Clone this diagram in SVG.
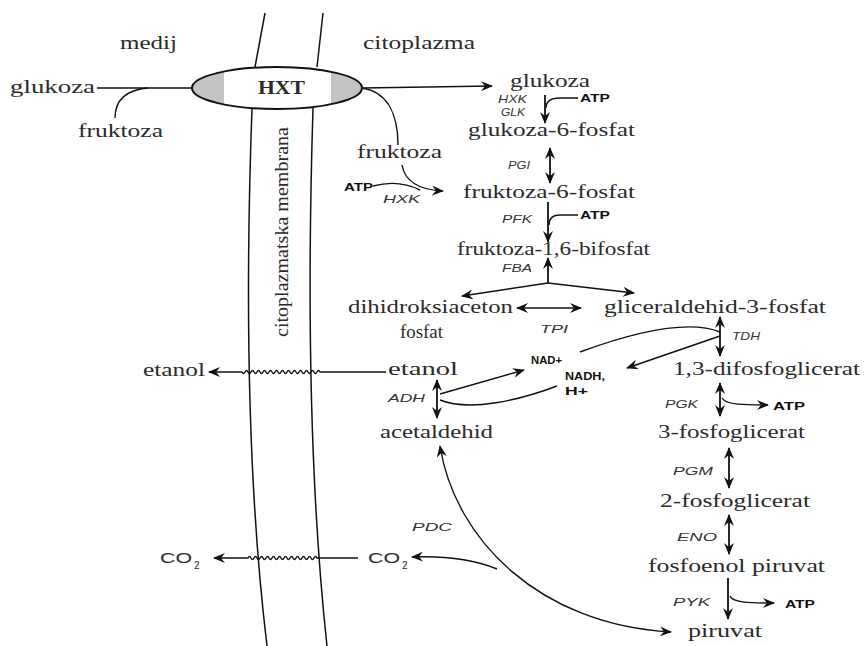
<svg xmlns="http://www.w3.org/2000/svg" width="867" height="646" viewBox="0 0 867 646">
<style>
.t{font-family:"Liberation Serif","Times New Roman",serif;font-size:19px;fill:#2b2b2b}
.s{font-family:"Liberation Sans",Arial,sans-serif;font-size:10.5px;font-weight:bold;fill:#111}
.e{font-family:"Liberation Sans",Arial,sans-serif;font-size:11px;font-style:italic;fill:#333}
.co{font-family:"Liberation Sans",Arial,sans-serif;font-size:15px;fill:#2b2b2b}
.sub{font-family:"Liberation Sans",Arial,sans-serif;font-size:10px;fill:#2b2b2b}
.c{fill:none;stroke:#111;stroke-width:1.4}
.v{fill:none;stroke:#111;stroke-width:1.8}
.m{fill:none;stroke:#111;stroke-width:1.5}
</style>
<defs>
<marker id="ah" viewBox="0 0 12 10" refX="11" refY="5" markerWidth="12" markerHeight="10" markerUnits="userSpaceOnUse" orient="auto-start-reverse">
<path d="M0,0 L12,5 L0,10 L4,5 z" fill="#111"/>
</marker>
<clipPath id="ec"><ellipse cx="277" cy="88" rx="85" ry="21"/></clipPath>
</defs>

<g id="membrane">
<path class="m" d="M265,13 L255,67"/>
<path class="m" d="M323,13 L317,67"/>
<path class="m" d="M252,108 C245,300 247,480 267,646"/>
<path class="m" d="M313,108 C307,300 309,480 327,646"/>
<text class="t" transform="translate(288,232) rotate(-90)" text-anchor="middle" font-size="20" textLength="210" lengthAdjust="spacingAndGlyphs">citoplazmatska membrana</text>
</g>

<g id="hxt">
<g clip-path="url(#ec)">
<rect x="190" y="65" width="175" height="46" fill="#c4c4c4"/>
<rect x="224" y="65" width="107" height="46" fill="#fff"/>
</g>
<ellipse cx="277" cy="88" rx="85" ry="21" fill="none" stroke="#111" stroke-width="2"/>
<text class="t" x="258" y="94" font-size="16" font-weight="bold" textLength="47" lengthAdjust="spacingAndGlyphs">HXT</text>
</g>

<g id="labels">
<text class="t" x="120" y="49" textLength="57" lengthAdjust="spacingAndGlyphs">medij</text>
<text class="t" x="363" y="49" textLength="112" lengthAdjust="spacingAndGlyphs">citoplazma</text>
</g>

<g id="n-glukoza-out"><text class="t" x="10" y="93" textLength="85" lengthAdjust="spacingAndGlyphs">glukoza</text></g>
<g id="n-fruktoza-out"><text class="t" x="78" y="137" textLength="85" lengthAdjust="spacingAndGlyphs">fruktoza</text></g>
<g id="n-fruktoza-in"><text class="t" x="357" y="158" textLength="85" lengthAdjust="spacingAndGlyphs">fruktoza</text></g>
<g id="n-glukoza-in"><text class="t" x="510" y="87" textLength="80" lengthAdjust="spacingAndGlyphs">glukoza</text></g>
<g id="n-g6p"><text class="t" x="468" y="136" textLength="167" lengthAdjust="spacingAndGlyphs">glukoza-6-fosfat</text></g>
<g id="n-f6p"><text class="t" x="463" y="198" textLength="172" lengthAdjust="spacingAndGlyphs">fruktoza-6-fosfat</text></g>
<g id="n-f16bp"><text class="t" x="457" y="255" textLength="193" lengthAdjust="spacingAndGlyphs">fruktoza-1,6-bifosfat</text></g>
<g id="n-dhap">
<text class="t" x="348" y="313" textLength="165" lengthAdjust="spacingAndGlyphs">dihidroksiaceton</text>
<text class="t" x="400" y="338" textLength="43" lengthAdjust="spacingAndGlyphs">fosfat</text>
</g>
<g id="n-g3p"><text class="t" x="604" y="313" textLength="222" lengthAdjust="spacingAndGlyphs">gliceraldehid-3-fosfat</text></g>
<g id="n-etanol-in"><text class="t" x="388" y="375" textLength="70" lengthAdjust="spacingAndGlyphs">etanol</text></g>
<g id="n-etanol-out"><text class="t" x="143" y="376" textLength="62" lengthAdjust="spacingAndGlyphs">etanol</text></g>
<g id="n-13bpg"><text class="t" x="673" y="375" textLength="187" lengthAdjust="spacingAndGlyphs">1,3-difosfoglicerat</text></g>
<g id="n-acetaldehid"><text class="t" x="380" y="438" textLength="113" lengthAdjust="spacingAndGlyphs">acetaldehid</text></g>
<g id="n-3pg"><text class="t" x="658" y="438" textLength="147" lengthAdjust="spacingAndGlyphs">3-fosfoglicerat</text></g>
<g id="n-2pg"><text class="t" x="660" y="507" textLength="150" lengthAdjust="spacingAndGlyphs">2-fosfoglicerat</text></g>
<g id="n-pep"><text class="t" x="648" y="572" textLength="177" lengthAdjust="spacingAndGlyphs">fosfoenol piruvat</text></g>
<g id="n-piruvat"><text class="t" x="688" y="637" textLength="74" lengthAdjust="spacingAndGlyphs">piruvat</text></g>
<g id="n-co2-in"><text class="co" x="368" y="563" textLength="32" lengthAdjust="spacingAndGlyphs">CO</text><text class="sub" x="402" y="569">2</text></g>
<g id="n-co2-out"><text class="co" x="160" y="563" textLength="32" lengthAdjust="spacingAndGlyphs">CO</text><text class="sub" x="194" y="569">2</text></g>
<g id="n-nad">
<text class="s" x="531" y="364" textLength="31" lengthAdjust="spacingAndGlyphs">NAD+</text>
<text class="s" x="565" y="380" textLength="40" lengthAdjust="spacingAndGlyphs">NADH,</text>
<text class="s" x="565" y="395" textLength="23" lengthAdjust="spacingAndGlyphs">H+</text>
</g>

<g id="enzymes">
<text class="e" x="498" y="103" textLength="29" lengthAdjust="spacingAndGlyphs">HXK</text>
<text class="e" x="501" y="116" textLength="24" lengthAdjust="spacingAndGlyphs">GLK</text>
<text class="e" x="508" y="169" textLength="22" lengthAdjust="spacingAndGlyphs">PGI</text>
<text class="e" x="502" y="223" textLength="30" lengthAdjust="spacingAndGlyphs">PFK</text>
<text class="e" x="502" y="272" textLength="30" lengthAdjust="spacingAndGlyphs">FBA</text>
<text class="e" x="540" y="333" textLength="28" lengthAdjust="spacingAndGlyphs">TPI</text>
<text class="e" x="732" y="340" textLength="28" lengthAdjust="spacingAndGlyphs">TDH</text>
<text class="e" x="388" y="402" textLength="37" lengthAdjust="spacingAndGlyphs">ADH</text>
<text class="e" x="665" y="408" textLength="33" lengthAdjust="spacingAndGlyphs">PGK</text>
<text class="e" x="673" y="475" textLength="40" lengthAdjust="spacingAndGlyphs">PGM</text>
<text class="e" x="677" y="541" textLength="40" lengthAdjust="spacingAndGlyphs">ENO</text>
<text class="e" x="673" y="606" textLength="37" lengthAdjust="spacingAndGlyphs">PYK</text>
<text class="e" x="412" y="531" textLength="40" lengthAdjust="spacingAndGlyphs">PDC</text>
<text class="e" x="383" y="203" textLength="37" lengthAdjust="spacingAndGlyphs">HXK</text>
</g>

<g id="atp">
<text class="s" x="344" y="191" textLength="29" lengthAdjust="spacingAndGlyphs">ATP</text>
<text class="s" x="580" y="102" textLength="30" lengthAdjust="spacingAndGlyphs">ATP</text>
<text class="s" x="580" y="219" textLength="30" lengthAdjust="spacingAndGlyphs">ATP</text>
<text class="s" x="773" y="410" textLength="32" lengthAdjust="spacingAndGlyphs">ATP</text>
<text class="s" x="785" y="608" textLength="30" lengthAdjust="spacingAndGlyphs">ATP</text>
</g>

<g id="connectors">
<path class="c" d="M97,88 L193,88"/>
<path class="c" d="M115,118 C115,100 125,90 148,88"/>
<path class="c" d="M362,88 L492,86" marker-end="url(#ah)"/>
<path class="c" d="M362,88 C388,92 398,115 398,145"/>
<path class="c" d="M402,165 C405,182 420,190 443,191" marker-end="url(#ah)"/>
<path class="c" d="M373,186 C392,181 408,184 420,190"/>
<path class="v" d="M545,95 L545,123" marker-end="url(#ah)"/>
<path class="c" d="M578,98 L560,98 Q546,98 546,108"/>
<path class="v" d="M550,148 L550,183" marker-start="url(#ah)" marker-end="url(#ah)"/>
<path class="v" d="M548,202 L548,242" marker-end="url(#ah)"/>
<path class="c" d="M578,215 L560,215 Q549,215 549,225"/>
<path class="v" d="M548,283 L548,258" marker-end="url(#ah)"/>
<path class="c" d="M548,283 L462,296" marker-end="url(#ah)"/>
<path class="c" d="M548,283 L634,293" marker-end="url(#ah)"/>
<path class="c" d="M517,308 L581,308" marker-start="url(#ah)" marker-end="url(#ah)"/>
<path class="v" d="M720,317 L720,356" marker-start="url(#ah)" marker-end="url(#ah)"/>
<path class="c" d="M580,352 C640,330 690,320 720,332"/>
<path class="c" d="M720,336 L627,368" marker-end="url(#ah)"/>
<path class="v" d="M437,380 L437,418" marker-start="url(#ah)" marker-end="url(#ah)"/>
<path class="c" d="M440,394 L524,370" marker-end="url(#ah)"/>
<path class="c" d="M440,400 C470,412 520,400 557,386"/>
<path class="v" d="M720,383 L720,416" marker-start="url(#ah)" marker-end="url(#ah)"/>
<path class="c" d="M722,398 C726,405 745,405 768,405" marker-end="url(#ah)"/>
<path class="v" d="M729,448 L729,488" marker-start="url(#ah)" marker-end="url(#ah)"/>
<path class="v" d="M729,515 L729,554" marker-start="url(#ah)" marker-end="url(#ah)"/>
<path class="v" d="M728,578 L728,619" marker-end="url(#ah)"/>
<path class="c" d="M730,596 C733,603 750,603 774,603" marker-end="url(#ah)"/>
<path class="c" d="M440,446 C455,540 540,625 671,632" marker-start="url(#ah)" marker-end="url(#ah)"/>
<path class="c" d="M497,569 C470,558 440,556 412,557" marker-end="url(#ah)"/>
<path class="c" d="M358,558 L317,558 q-1.5,-3 -3,0 t-3,0 t-3,0 t-3,0 t-3,0 t-3,0 t-3,0 t-3,0 t-3,0 t-3,0 t-3,0 t-3,0 t-3,0 t-3,0 t-3,0 t-3,0 t-3,0 t-3,0 t-3,0 t-3,0 t-3,0 t-3,0 t-3,0 L214,558" marker-end="url(#ah)"/>
<path class="c" d="M386,372 L320,372 q-1.5,-3 -3,0 t-3,0 t-3,0 t-3,0 t-3,0 t-3,0 t-3,0 t-3,0 t-3,0 t-3,0 t-3,0 t-3,0 t-3,0 t-3,0 t-3,0 t-3,0 t-3,0 t-3,0 t-3,0 t-3,0 t-3,0 t-3,0 t-3,0 t-3,0 t-3,0 t-3,0 L209,372" marker-end="url(#ah)"/>
</g>
</svg>
